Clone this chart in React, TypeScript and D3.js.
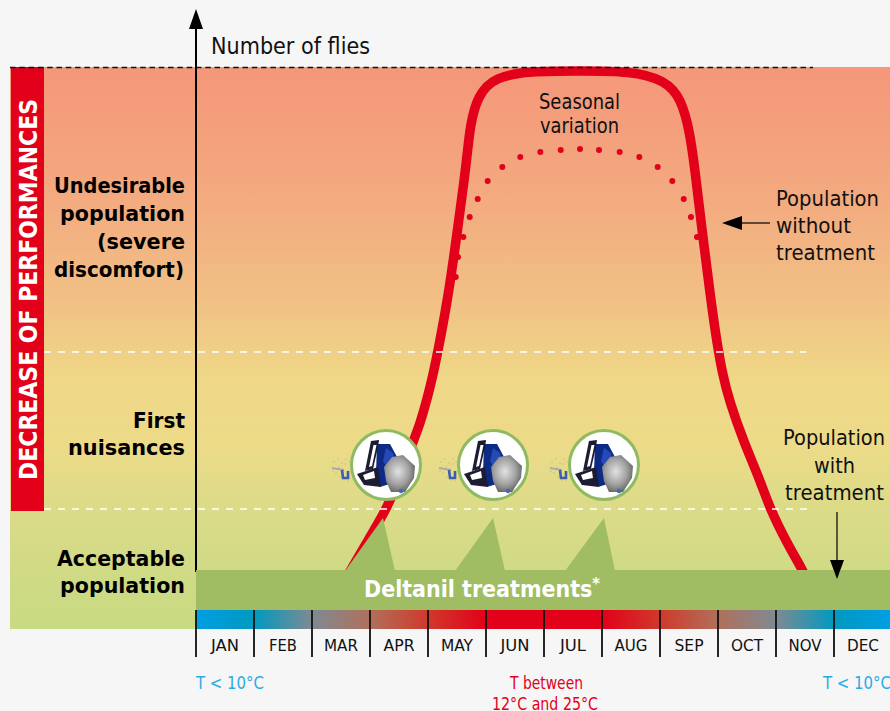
import React from "react";
import * as d3 from "d3";

const WIDTH = 890;
const HEIGHT = 711;
const FONT = "'DejaVu Sans', sans-serif";
const RED = "#e2001a";

const months = ["JAN", "FEB", "MAR", "APR", "MAY", "JUN", "JUL", "AUG", "SEP", "OCT", "NOV", "DEC"];
const monthLabelWidths = [28, 28, 34, 31, 32, 29, 26, 33, 29, 32, 33, 32];

// month position (0 = start of Jan), fly index (0 = bottom of chart, 562 = top)
const populationMonth = [2.57, 2.84, 3.17, 3.34, 3.72, 3.86, 4.05, 4.17, 4.36, 4.52, 4.67, 4.724, 4.86, 5.15, 5.759, 6.621, 7.483, 8.09, 8.37, 8.517, 8.603, 8.724, 8.862, 8.948, 9.069, 9.207, 9.431, 9.724, 9.897, 10.19, 10.448, 10.62];
const populationLevel = [49, 76, 109, 126, 184, 204, 244, 277, 336, 404, 469, 504, 534, 552, 558, 558, 558, 549, 530, 496, 459, 399, 336, 299, 256, 226, 189, 149, 120, 86, 60, 40];

const seasonalMonth = [4.478, 4.517, 4.609, 4.719, 4.857, 5.029, 5.281, 5.591, 5.936, 6.288, 6.621, 6.948, 7.305, 7.643, 7.96, 8.212, 8.409, 8.534, 8.638];
const seasonalLevel = [352, 372, 392, 412, 430, 448, 462, 472, 477, 479, 480, 479, 477, 472, 462, 448, 430, 412, 392];

// treatments: start, peak and end of each application ramp, in months
const treatmentStart = [2.569, 4.466, 6.362];
const treatmentPeak = [3.224, 5.121, 7.034];
const treatmentEnd = [3.431, 5.328, 7.224];
const treatmentIcon = [3.276, 5.121, 7.034];
const bandLevel = 59;
const bandBottomLevel = 19;
const peakLevel = 111;
const iconLevel = 164;

const thresholdLevels = [277, 120];
const thresholdEnds = [10.52, 10.66];
const topLevel = 562;

const tempStops = [0, 0.03, 1, 2, 3, 4, 5, 7, 8, 9, 10, 11, 11.97, 12];
const tempColors = ["#009ee3", "#009ee3", "#0099c0", "#7f8a92", "#b0705c", "#d0392b", RED, RED, "#d0392b", "#b0705c", "#7f8a92", "#0099c0", "#009ee3", "#009ee3"];

const bgStops = [0, 0.12, 0.25, 0.42, 0.55, 0.68, 0.78, 0.88, 1];
const bgColors = ["#f4977a", "#f4a07c", "#f3ac80", "#f1c185", "#efd787", "#ecdb88", "#dcdb88", "#d2da86", "#c8da82"];

const x = d3.scaleLinear().domain([0, 12]).range([196, 892]);
const y = d3.scaleLinear().domain([0, topLevel]).range([629, 67]);

const populationPath = d3
  .line<number>()
  .x((m) => x(m))
  .y((_, i) => y(populationLevel[i]))
  .curve(d3.curveBasis)(populationMonth) as string;

const bandArea = d3
  .area<number>()
  .x((m) => m)
  .y0(y(bandBottomLevel))
  .y1(y(bandLevel))([x(0), WIDTH]) as string;

type LabelProps = {
  t: string;
  px: number;
  base: number;
  w: number;
  size?: number;
  bold?: boolean;
  fill?: string;
};

function Label({ t, px, base, w, size = 22, bold = false, fill }: LabelProps) {
  return (
    <text
      x={px}
      y={base}
      fontFamily={FONT}
      fontSize={size}
      fontWeight={bold ? 700 : 400}
      fill={fill ?? (bold ? "#000" : "#111")}
      textLength={w}
      lengthAdjust="spacingAndGlyphs"
    >
      {t}
    </text>
  );
}

const speckles: [number, number][] = [
  [-52, -3], [-48, -6], [-44, -2], [-50, 8], [-46, 12], [-40, -6], [-38, 16], [-47, 2], [-41, -1], [-53, 6], [-42, 15], [-37, -3],
];

function Icon({ cx, cy }: { cx: number; cy: number }) {
  return (
    <g transform={`translate(${cx},${cy})`}>
      <g filter="url(#soft)">
        <g fill="#b9b58c" opacity={0.75}>
          {speckles.map(([a, b], i) => (
            <circle key={i} cx={a} cy={b} r={0.8} />
          ))}
        </g>
        <path d="M-54,3 L-42,5" stroke="#a9aca6" strokeWidth={2} fill="none" />
        <path d="M-44,5 L-43,13 L-38,13 L-38,6" stroke="#3f5cac" strokeWidth={2.6} fill="none" />
      </g>
      <circle r={34.5} fill="#fff" stroke="#8fba62" strokeWidth={3} />
      <g filter="url(#soft)">
        <path d="M-9,-21 L4,-21 L11,-8 L10,17 L-6,22 L-10,8 Z" fill="#0f2a85" />
        <path d="M0,-17 L7,-12 L9,-2 L3,6 L-3,-4 Z" fill="#2748b8" />
        <path d="M-15,-24 L-7,-25 L-8,-18 L-13,4 L-21,6 Z" fill="#1a1a30" />
        <path d="M-12.5,-20 L-9.5,-20 L-14,1 L-17,2 Z" fill="#fff" />
        <path d="M-29,9 L-8,2 L-5,22 L-22,20 Z" fill="#1d1d30" />
        <path d="M-23,10 L-12,6 L-11,13 L-21,15 Z" fill="#fff" />
        <path d="M-2,2 L6,-8 L17,-10 L29,1 L28,13 L19,27 L5,27 L0,16 Z" fill="url(#shield)" />
        <circle cx={15} cy={26} r={2.2} fill="#4a66b0" />
      </g>
    </g>
  );
}

export default function App() {
  return (
    <svg
      width={WIDTH}
      height={HEIGHT}
      viewBox={`0 0 ${WIDTH} ${HEIGHT}`}
      style={{ position: "absolute", left: 0, top: 0, background: "#f6f6f6" }}
    >
      <defs>
        <linearGradient id="bg" x1="0" y1="0" x2="0" y2="1">
          {bgStops.map((s, i) => (
            <stop key={i} offset={s} stopColor={bgColors[i]} />
          ))}
        </linearGradient>
        <linearGradient id="temp" gradientUnits="userSpaceOnUse" x1={x(0)} x2={x(12)} y1="0" y2="0">
          {tempStops.map((s, i) => (
            <stop key={i} offset={s / 12} stopColor={tempColors[i]} />
          ))}
        </linearGradient>
        <radialGradient id="shield" cx="0.45" cy="0.45" r="0.6">
          <stop offset="0" stopColor="#e2e2e2" />
          <stop offset="0.6" stopColor="#a0a0a0" />
          <stop offset="1" stopColor="#606060" />
        </radialGradient>
        <filter id="soft" x="-20%" y="-20%" width="140%" height="140%">
          <feGaussianBlur stdDeviation="0.7" />
        </filter>
      </defs>

      <rect x={10} y={y(topLevel)} width={WIDTH - 10} height={y(0) - y(topLevel)} fill="url(#bg)" />

      <rect x={11} y={y(topLevel)} width={33} height={444} fill={RED} />
      <text
        transform="translate(36.5,480) rotate(-90)"
        fontFamily={FONT}
        fontSize={25}
        fontWeight={700}
        fill="#fff"
        textLength={381}
        lengthAdjust="spacingAndGlyphs"
      >
        DECREASE OF PERFORMANCES
      </text>

      {seasonalMonth.map((m, i) => (
        <circle key={i} cx={x(m)} cy={y(seasonalLevel[i])} r={3} fill={RED} />
      ))}
      <path d={populationPath} fill="none" stroke={RED} strokeWidth={9.5} />

      {thresholdLevels.map((l, i) => (
        <line
          key={i}
          x1={44}
          x2={x(thresholdEnds[i])}
          y1={y(l)}
          y2={y(l)}
          stroke="#fff"
          strokeWidth={1.5}
          strokeDasharray="7 7"
        />
      ))}
      <line x1={10} x2={813} y1={y(topLevel) + 0.5} y2={y(topLevel) + 0.5} stroke="#111" strokeWidth={1.5} strokeDasharray="5.5 3.8" />

      <line x1={x(0)} x2={x(0)} y1={24} y2={572} stroke="#000" strokeWidth={2} />
      <path d="M196,9 L189,29 L203,29 Z" fill="#000" />

      {treatmentStart.map((s, i) => (
        <path
          key={i}
          d={`M${x(s)},${y(bandLevel) + 1} L${x(treatmentPeak[i])},${y(peakLevel)} L${x(treatmentEnd[i])},${y(bandLevel) + 1} Z`}
          fill="#a0bd64"
        />
      ))}
      <path d={bandArea} fill="#a0bd64" />

      {treatmentIcon.map((m, i) => (
        <Icon key={i} cx={x(m)} cy={y(iconLevel)} />
      ))}

      <rect x={x(0)} y={y(bandBottomLevel)} width={WIDTH - x(0)} height={19} fill="url(#temp)" />
      {d3.range(0, 12).map((i) => (
        <line key={i} x1={x(i)} x2={x(i)} y1={610} y2={657} stroke="#111" strokeWidth={1.8} />
      ))}
      {months.map((m, i) => (
        <Label key={m} t={m} px={x(i + 0.5) - monthLabelWidths[i] / 2} base={651} w={monthLabelWidths[i]} size={16} />
      ))}

      <Label t="Number of flies" px={211} base={54} w={159} size={23} />

      <Label t="Undesirable" px={54} base={193} w={131} size={21.5} bold />
      <Label t="population" px={60} base={221} w={125} size={21.5} bold />
      <Label t="(severe" px={97} base={249} w={88} size={21.5} bold />
      <Label t="discomfort)" px={54} base={277} w={130} size={21.5} bold />
      <Label t="First" px={133} base={428} w={52} size={21.5} bold />
      <Label t="nuisances" px={68} base={455} w={117} size={21.5} bold />
      <Label t="Acceptable" px={57} base={566} w={128} size={21.5} bold />
      <Label t="population" px={60} base={593} w={125} size={21.5} bold />

      <Label t="Seasonal" px={539} base={109} w={81} />
      <Label t="variation" px={540} base={133} w={79} />

      <Label t="Population" px={776} base={206} w={103} />
      <Label t="without" px={776} base={233} w={75} />
      <Label t="treatment" px={776} base={260} w={99} />
      <line x1={740} x2={770} y1={223} y2={223} stroke="#000" strokeWidth={1.2} />
      <path d="M722,223 L742,216 L742,230 Z" fill="#000" />

      <Label t="Population" px={783} base={445} w={102} />
      <Label t="with" px={814} base={473} w={41} />
      <Label t="treatment" px={785} base={500} w={99} />
      <line x1={837} x2={837} y1={512} y2={562} stroke="#000" strokeWidth={1.2} />
      <path d="M837,579 L830,560 L844,560 Z" fill="#000" />

      <text x={364} y={597} fontFamily={FONT} fontSize={22.5} fontWeight={700} fill="#fff" textLength={236} lengthAdjust="spacingAndGlyphs">
        Deltanil treatments
        <tspan fontSize={16} dy={-8}>*</tspan>
      </text>

      <Label t="T < 10°C" px={196} base={689} w={68} size={17} fill="#29abe2" />
      <Label t="T < 10°C" px={823} base={689} w={68} size={17} fill="#29abe2" />
      <Label t="T between" px={510} base={689} w={73} size={17} fill={RED} />
      <Label t="12°C and 25°C" px={492} base={710} w={106} size={17} fill={RED} />
    </svg>
  );
}
